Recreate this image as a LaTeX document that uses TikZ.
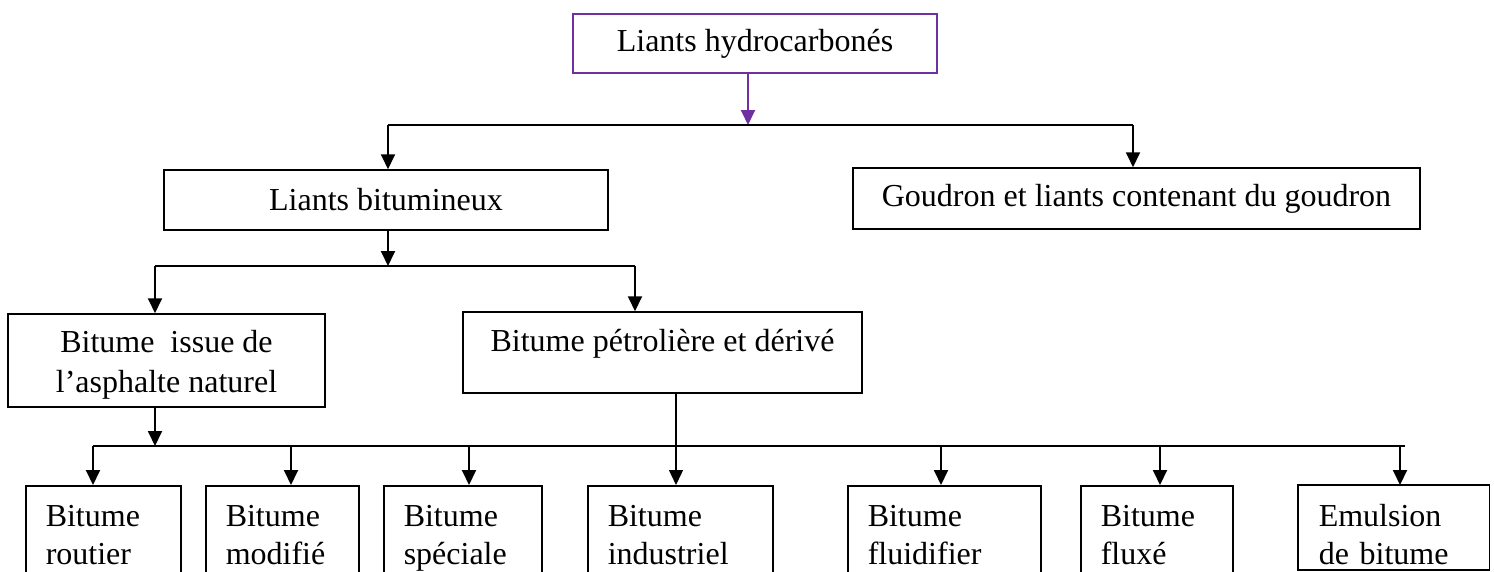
\documentclass[tikz,border=0pt]{standalone}
\usepackage{fontspec}
\setmainfont{Liberation Serif}
\usetikzlibrary{arrows.meta}
\definecolor{boxpurple}{RGB}{112,48,160}
\begin{document}
\begin{tikzpicture}[x=1pt,y=-1pt,
  txt/.style={font=\fontsize{32}{38}\selectfont},
  cbox/.style={txt,draw,line width=1.5pt,inner sep=0pt,align=center},
  bbox/.style={txt,draw,line width=1.5pt,anchor=north west,inner xsep=20pt,inner ysep=0pt,minimum height=105pt,align=left},
  conn/.style={line width=2.2pt},
  arr/.style={line width=1.9pt,-{Triangle[length=15pt,width=14pt]}},
  thinarr/.style={arr,line width=1.4pt},
  parr/.style={arr,draw=boxpurple,-{Triangle[length=15pt,width=14pt,fill=boxpurple]}}]
\clip (0,0) rectangle (1494,571);
\fill[white] (0,0) rectangle (1494,571);
% boxes
\node[cbox,draw=boxpurple,minimum width=364pt,minimum height=59pt] (top) at (755,43.5) {Liants hydrocarbonés};
\node[cbox,minimum width=444pt,minimum height=60pt] (lb) at (386,200) {Liants bitumineux};
\node[cbox,minimum width=567pt,minimum height=61pt] (gd) at (1136.5,198.5) {Goudron et liants contenant du goudron};
\node[cbox,font=\fontsize{32}{40}\selectfont,minimum width=317pt,minimum height=93pt] (nat) at (166.5,360.5) {\rule{0pt}{30pt}Bitume~ issue de\\l’asphalte naturel};
\node[cbox,minimum width=399pt,minimum height=81pt,text depth=24pt] (pet) at (662.5,352.5) {Bitume pétrolière et dérivé};
\node[bbox,text width=115pt] (rout) at (25,485) {\strut Bitume\\routier\strut};
\node[bbox,text width=113pt] (modif) at (205,485) {\strut Bitume\\modifié\strut};
\node[bbox,text width=118pt] (spec) at (383,485) {\strut Bitume\\spéciale\strut};
\node[bbox,text width=145pt] (ind) at (587,485) {\strut Bitume\\industriel\strut};
\node[bbox,text width=153pt] (fluid) at (847,485) {\strut Bitume\\fluidifier\strut};
\node[bbox,text width=112pt] (flux) at (1080,485) {\strut Bitume\\fluxé\strut};
\node[bbox,draw=none,text width=150pt] (emu) at (1298,485) {\strut Emulsion\\de bitume\strut};
\coordinate (emubot) at (0,570);
\draw[line width=1.5pt] (emu.north west) rectangle (emu.east |- emubot);
% junctions
\coordinate (j0) at (748,125);
\coordinate (j0L) at (388,125);
\coordinate (j0R) at (1133,125);
\coordinate (j1) at (388,266);
\coordinate (j1L) at (155,266);
\coordinate (j1R) at (635,266);
\coordinate (j2) at (155,446);
\coordinate (j2L) at (93,446);
\coordinate (j2R) at (1405,446);
\coordinate (j3) at (676,446);
\coordinate (b2) at (291,446);
\coordinate (b3) at (469,446);
\coordinate (b5) at (941,446);
\coordinate (b6) at (1160,446);
\coordinate (b7) at (1400,446);
% connectors
\draw[parr] ([xshift=-7pt]top.south) -- (j0);
\draw[conn] (j0L) -- (j0R);
\draw[arr] (j0L) -- (j0L |- lb.north);
\draw[arr] (j0R) -- (j0R |- gd.north);
\draw[arr] (j1 |- lb.south) -- (j1);
\draw[conn] (j1L) -- (j1R);
\draw[arr] (j1L) -- (j1L |- nat.north);
\draw[arr] (j1R) -- (j1R |- pet.north);
\draw[arr] (j2 |- nat.south) -- (j2);
\draw[conn] (j2L) -- (j2R);
\draw[thinarr] (j3 |- pet.south) -- (j3 |- ind.north);
\draw[arr] (j2L) -- (j2L |- rout.north);
\draw[arr] (b2) -- (b2 |- modif.north);
\draw[arr] (b3) -- (b3 |- spec.north);
\draw[arr] (b5) -- (b5 |- fluid.north);
\draw[arr] (b6) -- (b6 |- flux.north);
\draw[arr] (b7) -- (b7 |- emu.north);
\end{tikzpicture}
\end{document}
